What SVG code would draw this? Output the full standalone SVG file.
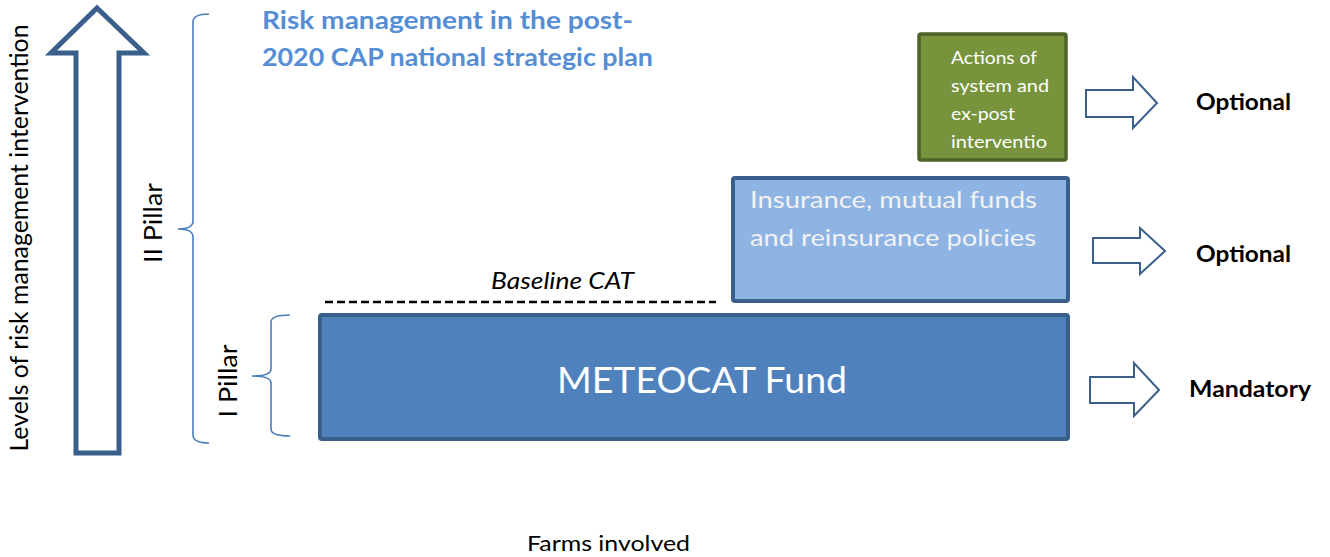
<svg xmlns="http://www.w3.org/2000/svg" width="1330" height="557" viewBox="0 0 1330 557">
<style>
.t{font-family:Lato,"Liberation Sans",sans-serif;}
.blk{fill:#000;}
.wht{fill:#fff;}
.ttl{fill:#558ED5;font-weight:bold;font-size:24px;}
.opt{font-weight:bold;font-size:23px;fill:#000;}
.brace{fill:none;stroke:#4A7EBB;stroke-width:1.6;}
.bigarrow{fill:#fff;stroke:#3A5F8B;stroke-width:5;stroke-linejoin:miter;}
.rarrow{fill:#fff;stroke:#3A5F8B;stroke-width:2;}
</style>
<g id="axis">
<path class="bigarrow" d="M97,8 L144,53 L119,53 L119,453 L76,453 L76,53 L51,53 Z"/>
<text class="t blk" font-size="24.5" transform="translate(28,238) rotate(-90)" text-anchor="middle" textLength="427" lengthAdjust="spacingAndGlyphs">Levels of risk management intervention</text>
</g>
<g id="pillar2">
<path class="brace" d="M209,14 Q193,14 193,22 L193,221 Q193,229 178,229 Q193,229 193,237 L193,435 Q193,443 209,443"/>
<text class="t blk" font-size="25" transform="translate(162,223) rotate(-90)" text-anchor="middle" textLength="80" lengthAdjust="spacingAndGlyphs">II Pillar</text>
</g>
<g id="pillar1">
<path class="brace" d="M290,315 Q271,315 271,322 L271,369 Q271,376 252,376 Q271,376 271,383 L271,429 Q271,436 290,436"/>
<text class="t blk" font-size="25" transform="translate(237,381) rotate(-90)" text-anchor="middle" textLength="73" lengthAdjust="spacingAndGlyphs">I Pillar</text>
</g>
<g id="title">
<text class="t ttl" x="262" y="29" textLength="371" lengthAdjust="spacingAndGlyphs">Risk management in the post-</text>
<text class="t ttl" x="262" y="66" textLength="391" lengthAdjust="spacingAndGlyphs">2020 CAP national strategic plan</text>
</g>
<g id="actions">
<rect x="919" y="34" width="147" height="126" rx="2" fill="#77933C" stroke="#4F6228" stroke-width="3.5"/>
<text class="t wht" font-size="17"><tspan x="951" y="64" textLength="86" lengthAdjust="spacingAndGlyphs">Actions of</tspan><tspan x="951" y="92" textLength="98" lengthAdjust="spacingAndGlyphs">system and</tspan><tspan x="951" y="120" textLength="64" lengthAdjust="spacingAndGlyphs">ex-post</tspan><tspan x="951" y="148" textLength="96" lengthAdjust="spacingAndGlyphs">interventio</tspan></text>
</g>
<g id="insurance">
<rect x="733" y="178" width="335" height="123" rx="2" fill="#8EB4E3" stroke="#3A5F8B" stroke-width="4"/>
<text class="t" fill="#F2F2F2" font-size="23.5"><tspan x="750" y="208" textLength="287" lengthAdjust="spacingAndGlyphs">Insurance, mutual funds</tspan><tspan x="750" y="246" textLength="286" lengthAdjust="spacingAndGlyphs">and reinsurance policies</tspan></text>
</g>
<g id="baseline">
<line x1="325" y1="302" x2="716" y2="302" stroke="#000" stroke-width="2.5" stroke-dasharray="8,4"/>
<text class="t blk" font-size="22.5" font-style="italic" x="491" y="289" textLength="143" lengthAdjust="spacingAndGlyphs">Baseline CAT</text>
</g>
<g id="meteocat">
<rect x="320" y="315" width="748" height="124" rx="2" fill="#4F81BD" stroke="#3A5F8B" stroke-width="4"/>
<text class="t wht" font-size="36" x="557" y="393" textLength="290" lengthAdjust="spacingAndGlyphs">METEOCAT Fund</text>
</g>
<g id="connectors">
<path class="rarrow" d="M1086,90 L1133,90 L1133,77 L1157,103 L1133,128 L1133,117 L1086,117 Z"/>
<path class="rarrow" d="M1093,238 L1140,238 L1140,228 L1165,251 L1140,274 L1140,263 L1093,263 Z"/>
<path class="rarrow" d="M1090,377 L1134,377 L1134,363 L1159,390 L1134,416 L1134,403 L1090,403 Z"/>
</g>
<g id="labels">
<text class="t opt" x="1196" y="110" textLength="95" lengthAdjust="spacingAndGlyphs">Optional</text>
<text class="t opt" x="1196" y="262" textLength="95" lengthAdjust="spacingAndGlyphs">Optional</text>
<text class="t opt" x="1189" y="397" textLength="122" lengthAdjust="spacingAndGlyphs">Mandatory</text>
<text class="t blk" font-size="21.5" x="527" y="551" textLength="163" lengthAdjust="spacingAndGlyphs">Farms involved</text>
</g>
</svg>
